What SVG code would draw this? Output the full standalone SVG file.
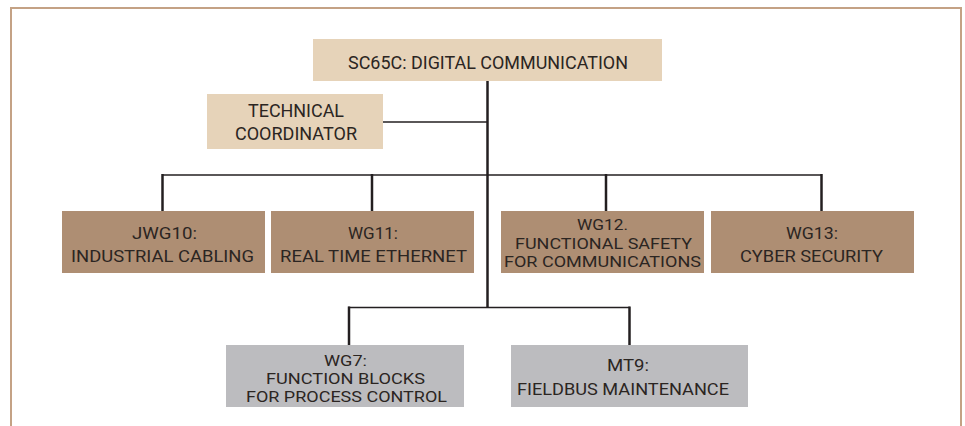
<svg xmlns="http://www.w3.org/2000/svg" width="965" height="426" viewBox="0 0 965 426">
<style>
.frame{fill:none;stroke:#c4a285;stroke-width:2}
.top{fill:#e6d3b9}
.wg{fill:#ae8e73}
.mt{fill:#bcbcbf}
text{font-family:Roboto,"Liberation Sans",sans-serif;fill:#2b2522;text-anchor:middle}
.big{font-size:18px}
.sm{font-size:16px}
.xs{font-size:15px}
.ln{fill:none;stroke:#231f20;stroke-width:2.5}
.thin{fill:none;stroke:#231f20;stroke-width:1.6}
</style>
<rect width="965" height="426" fill="#ffffff"/>
<path class="frame" d="M11,430 V8 H961 V430"/>
<g id="connectors">
<line class="ln" x1="487.5" y1="81" x2="487.5" y2="308"/>
<line class="thin" x1="383" y1="122" x2="487.5" y2="122"/>
<line class="thin" x1="162" y1="175" x2="822" y2="175"/>
<line class="ln" x1="162.5" y1="174" x2="162.5" y2="211"/>
<line class="ln" x1="372" y1="174" x2="372" y2="211"/>
<line class="ln" x1="606" y1="174" x2="606" y2="211"/>
<line class="ln" x1="821.5" y1="174" x2="821.5" y2="211"/>
<line class="thin" x1="348" y1="307.5" x2="630" y2="307.5"/>
<line class="ln" x1="349" y1="306.5" x2="349" y2="345"/>
<line class="ln" x1="629.5" y1="306.5" x2="629.5" y2="345"/>
</g>
<g id="sc65c">
<rect class="top" x="313" y="39" width="349" height="42"/>
<text class="big" x="488" y="69" textLength="280" lengthAdjust="spacingAndGlyphs">SC65C: DIGITAL COMMUNICATION</text>
</g>
<g id="tech">
<rect class="top" x="207" y="94" width="176" height="55"/>
<text class="big" x="296" y="117" textLength="96" lengthAdjust="spacingAndGlyphs">TECHNICAL</text>
<text class="big" x="296" y="140" textLength="122" lengthAdjust="spacingAndGlyphs">COORDINATOR</text>
</g>
<g id="jwg10">
<rect class="wg" x="62" y="211" width="203" height="62"/>
<text class="sm" x="164.5" y="239" textLength="65" lengthAdjust="spacingAndGlyphs">JWG10:</text>
<text class="sm" x="162.5" y="262" textLength="183" lengthAdjust="spacingAndGlyphs">INDUSTRIAL CABLING</text>
</g>
<g id="wg11">
<rect class="wg" x="271" y="211" width="203" height="62"/>
<text class="sm" x="373" y="239" textLength="50" lengthAdjust="spacingAndGlyphs">WG11:</text>
<text class="sm" x="373.5" y="262" textLength="187" lengthAdjust="spacingAndGlyphs">REAL TIME ETHERNET</text>
</g>
<g id="wg12">
<rect class="wg" x="501" y="211" width="203" height="62"/>
<text class="xs" x="602.5" y="230" textLength="51" lengthAdjust="spacingAndGlyphs">WG12.</text>
<text class="xs" x="603.5" y="249" textLength="177" lengthAdjust="spacingAndGlyphs">FUNCTIONAL SAFETY</text>
<text class="xs" x="602.5" y="267" textLength="197" lengthAdjust="spacingAndGlyphs">FOR COMMUNICATIONS</text>
</g>
<g id="wg13">
<rect class="wg" x="711" y="211" width="203" height="62"/>
<text class="sm" x="812" y="239" textLength="52" lengthAdjust="spacingAndGlyphs">WG13:</text>
<text class="sm" x="811.5" y="262" textLength="143" lengthAdjust="spacingAndGlyphs">CYBER SECURITY</text>
</g>
<g id="wg7">
<rect class="mt" x="226" y="345" width="238" height="62"/>
<text class="xs" x="345.5" y="366" textLength="43" lengthAdjust="spacingAndGlyphs">WG7:</text>
<text class="xs" x="345.5" y="384" textLength="159" lengthAdjust="spacingAndGlyphs">FUNCTION BLOCKS</text>
<text class="xs" x="346.5" y="402" textLength="201" lengthAdjust="spacingAndGlyphs">FOR PROCESS CONTROL</text>
</g>
<g id="mt9">
<rect class="mt" x="511" y="345" width="237" height="62"/>
<text class="sm" x="628" y="371" textLength="42" lengthAdjust="spacingAndGlyphs">MT9:</text>
<text class="sm" x="623" y="395" textLength="212" lengthAdjust="spacingAndGlyphs">FIELDBUS MAINTENANCE</text>
</g>
</svg>
